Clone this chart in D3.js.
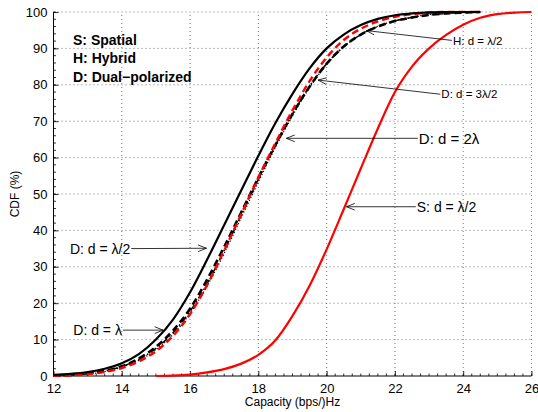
<!DOCTYPE html>
<html><head><meta charset="utf-8">
<script src="https://cdn.jsdelivr.net/npm/d3@7"></script>
<style>
html,body{margin:0;padding:0;background:#fff;}
svg{display:block;font-family:"Liberation Sans",Arial,Helvetica,sans-serif;}
</style></head>
<body>
<svg id="chart" width="538" height="412"></svg>
<script>
// ---- data ----
const xTicks = [12,14,16,18,20,22,24,26];
const yTicks = [0,10,20,30,40,50,60,70,80,90,100];
const capS_x = [15,15.5,16,16.5,17,17.5,18,18.5,19,19.5,20,20.5,21,21.5,22,22.5,23,23.5,24,24.5,25,25.5,26];
const cdfS_lam2 = [0,0.1,0.4,1,1.9,3.4,5.8,9.8,16.5,24.8,34.8,45.8,57,68,78,85,90,93.7,96.5,98.4,99.4,99.85,100];
const capD_x = [12,12.5,13,13.5,14,14.5,15,15.5,16,16.5,17,17.5,18,18.5,19,19.5,20,20.5,21,21.5,22,22.5,23,23.5,24,24.5];
const cdfD_lam2 = [0.3,0.6,1.1,2,3.5,6,10,15.5,23,32,41.5,51,60.5,69.5,77.5,84.5,90,93.8,96.4,98.1,99.1,99.6,99.9,100,100,100];
const cdfD_lam  = [0.1,0.3,0.7,1.4,2.7,4.8,8,12.5,18.5,26.5,35.5,45,54.5,63.5,72,79.5,85.8,90.5,93.8,96,97.5,98.5,99.2,99.6,99.85,100];
const cdfH_lam2 = [0.05,0.2,0.5,1.1,2.2,4,6.8,11,17,25,34.5,44.5,54.5,64,73,81,87.5,92.3,95.4,97.4,98.7,99.4,99.8,100,100,100];
const cdfD_2lam = [0.05,0.2,0.55,1.2,2.4,4.3,7.2,11.4,17.2,24.7,33.7,43.5,53.3,62.8,71.5,79.2,85.6,90.4,93.8,96.1,97.6,98.6,99.3,99.7,99.9,100];
const cdfD_3lam2= [0.1,0.25,0.65,1.35,2.6,4.6,7.6,11.9,17.8,25.4,34.5,44.2,54,63.4,72,79.6,85.8,90.5,93.8,96,97.5,98.5,99.2,99.6,99.85,100];
const legendLines = ["S: Spatial","H: Hybrid","D: Dual\u2212polarized"];
// annotations: label, arrow tip (data units), text anchor (data units)
const annLabels = ["H: d = \u03bb/2","D: d = 3\u03bb/2","D: d = 2\u03bb","S: d = \u03bb/2","D: d = \u03bb/2","D: d = \u03bb"];
const annTipX  = [21.16,19.75,18.82,20.58,16.48,15.21];
const annTipY  = [94.9,81.3,65.3,46.5,35.1,12.6];
const annTextX = [23.70,23.36,22.70,22.64,12.48,12.58];
const annTextY = [92.2,77.4,65.3,46.5,35.0,12.6];
const annSide  = ["right","right","right","right","left","left"];
const annSize  = [11.5,11.5,15,14,14,14];

// ---- layout ----
const svg = d3.select("#chart");
const L=53.5, R=531.5, T=12, B=376;
const x = d3.scaleLinear().domain([12,26]).range([L,R]);
const y = d3.scaleLinear().domain([0,100]).range([B,T]);

// grid
const grid = svg.append("g");
grid.selectAll("line.v").data(xTicks.slice(1)).enter().append("line")
  .attr("x1",d=>x(d)).attr("x2",d=>x(d)).attr("y1",B).attr("y2",T)
  .attr("stroke","#555").attr("stroke-width",0.8).attr("stroke-dasharray","1,3");
grid.selectAll("line.h").data(yTicks.slice(1)).enter().append("line")
  .attr("y1",d=>y(d)).attr("y2",d=>y(d)).attr("x1",L).attr("x2",R)
  .attr("stroke","#555").attr("stroke-width",0.8).attr("stroke-dasharray","1,3");

// axes
const xAxis = d3.axisBottom(x).tickValues(xTicks).tickSize(-5).tickPadding(8).tickFormat(d3.format("d"));
const yAxis = d3.axisLeft(y).tickValues(yTicks).tickSize(-5).tickPadding(6).tickFormat(d3.format("d"));
const gx = svg.append("g").attr("transform",`translate(0,${B})`).call(xAxis);
const gy = svg.append("g").attr("transform",`translate(${L},0)`).call(yAxis);
// minor ticks
const xMinor = d3.range(12,26.001,0.25);
const yMinor = d3.range(0,100.001,2);
gx.append("g").selectAll("line").data(xMinor).enter().append("line")
  .attr("x1",d=>x(d)).attr("x2",d=>x(d)).attr("y1",0).attr("y2",-2.5).attr("stroke","#000").attr("stroke-width",0.8);
gy.append("g").selectAll("line").data(yMinor).enter().append("line")
  .attr("y1",d=>y(d)).attr("y2",d=>y(d)).attr("x1",0).attr("x2",2.5).attr("stroke","#000").attr("stroke-width",0.8);
[gx,gy].forEach(g=>{
  g.select(".domain").attr("stroke","#000").attr("stroke-width",1);
  g.selectAll(".tick line").attr("stroke","#000").attr("stroke-width",0.8);
  g.selectAll(".tick text").attr("font-size",13).attr("fill","#000").attr("font-family","Liberation Sans, Arial, sans-serif");
});
gx.select(".domain").attr("d",`M${L},0H${R}`);
gy.select(".domain").attr("d",`M0,${B}V${T}`);

// axis labels
svg.append("text").attr("x",(L+R)/2).attr("y",406).attr("text-anchor","middle")
  .attr("font-size",12).text("Capacity (bps/)Hz");
svg.append("text").attr("transform",`translate(19,${(T+B)/2}) rotate(-90)`).attr("text-anchor","middle")
  .attr("font-size",12).text("CDF (%)");

// curves
const line = d3.line().x(d=>x(d[0])).y(d=>y(d[1])).curve(d3.curveMonotoneX);
const zipD = arr => capD_x.map((c,i)=>[c,arr[i]]);
const series = [
  {pts:zipD(cdfD_2lam), color:"#000", w:1.2, dash:"1.2,2"},
  {pts:zipD(cdfD_3lam2), color:"#000", w:1.5, dash:"7,3,1.5,3"},
  {pts:zipD(cdfD_lam), color:"#000", w:2.6, dash:"7,4"},
  {pts:zipD(cdfH_lam2), color:"#ff0000", w:2.4, dash:"7,4"},
  {pts:zipD(cdfD_lam2), color:"#000", w:2.2, dash:null},
  {pts:capS_x.map((c,i)=>[c,cdfS_lam2[i]]), color:"#ff0000", w:2.2, dash:null}
];
const cg = svg.append("g");
series.forEach(s=>{
  cg.append("path").attr("d",line(s.pts)).attr("fill","none")
    .attr("stroke",s.color).attr("stroke-width",s.w)
    .attr("stroke-dasharray",s.dash).attr("stroke-linejoin","round");
});

// legend text
svg.append("g").selectAll("text").data(legendLines).enter().append("text")
  .attr("x",73).attr("y",(d,i)=>45+i*18.4).attr("font-size",14).attr("font-weight","bold").text(d=>d);

// annotations
const ag = svg.append("g");
annLabels.forEach((lab,i)=>{
  const tx = x(annTextX[i]), ty = y(annTextY[i]);
  const t = ag.append("text").attr("x",tx).attr("y",ty).attr("dy","0.36em")
    .attr("font-size",annSize[i]).attr("fill","#000").text(lab);
  const w = t.node().getComputedTextLength();
  const sx = annSide[i]==="right" ? tx-1 : tx+w+1;
  const sy = ty;
  const ex = x(annTipX[i]), ey = y(annTipY[i]);
  ag.append("line").attr("x1",sx).attr("y1",sy).attr("x2",ex).attr("y2",ey)
    .attr("stroke","#000").attr("stroke-width",0.8);
  const ang = Math.atan2(ey-sy, ex-sx);
  const hl = 9, ha = 0.38;
  const p1 = [ex - hl*Math.cos(ang-ha), ey - hl*Math.sin(ang-ha)];
  const p2 = [ex - hl*Math.cos(ang+ha), ey - hl*Math.sin(ang+ha)];
  ag.append("path").attr("d",`M${p1[0]},${p1[1]}L${ex},${ey}L${p2[0]},${p2[1]}`)
    .attr("fill","none").attr("stroke","#000").attr("stroke-width",0.8);
});
</script>
</body></html>
